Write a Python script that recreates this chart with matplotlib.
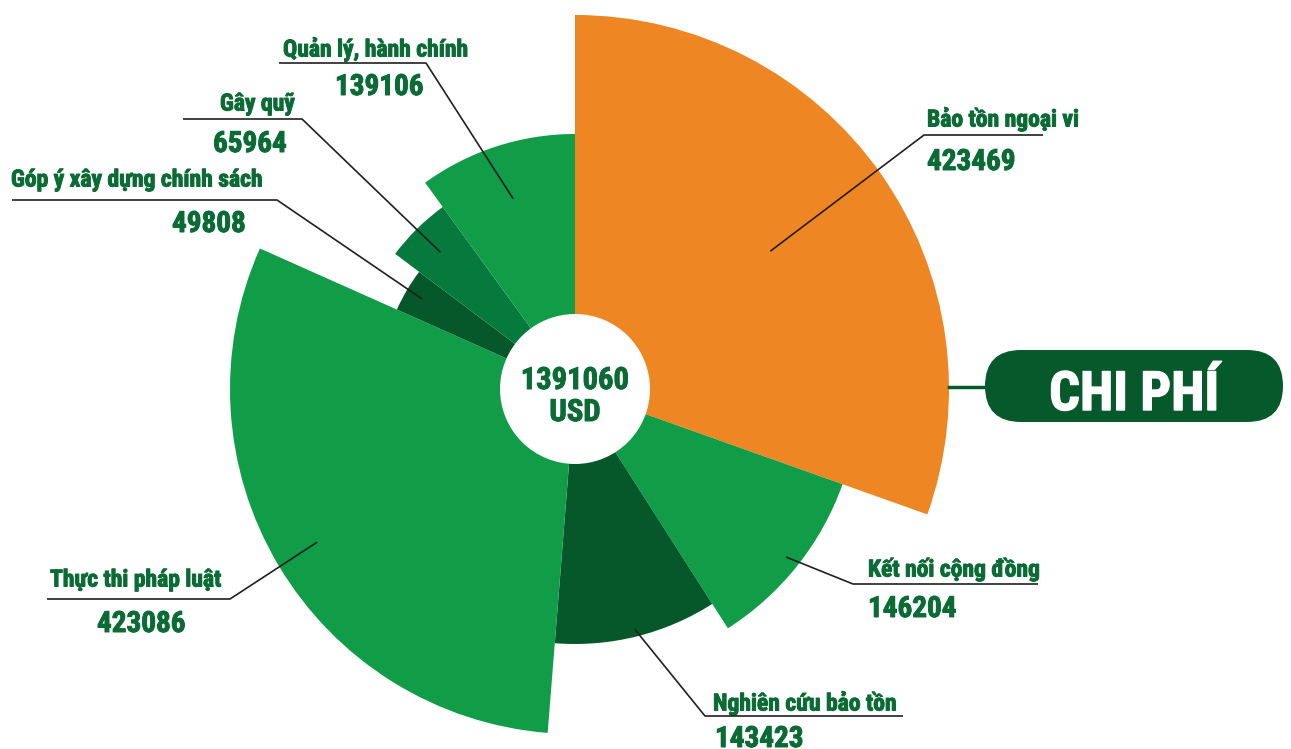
import numpy as np
import matplotlib
matplotlib.use('Agg')
import matplotlib.pyplot as plt
import matplotlib.patheffects as pe
from matplotlib.patches import Wedge, Circle, FancyBboxPatch

# data, clockwise from 12 o'clock
labels = ["Bảo tồn ngoại vi", "Kết nối cộng đồng", "Nghiên cứu bảo tồn",
          "Thực thi pháp luật", "Góp ý xây dựng chính sách", "Gây quỹ",
          "Quản lý, hành chính"]
values = [423469, 146204, 143423, 423086, 49808, 65964, 139106]
total_value = "1391060"
total_unit = "USD"
title = "CHI PHÍ"

# style
radii = [374, 284, 255, 345, 195, 225, 255]
colors = ["#ee8623", "#119c48", "#06582a", "#119c48", "#06582a", "#067a3d", "#119c48"]
hole = 75
lead_r = [239, 270, 248, 300, 177, 192, 200]
# title left x, title y, number left x, number y, knee x, knee y, end x (image px)
lab_pos = [
    (927, 118, 927, 160, 924, 135, 1043),
    (868, 568, 868, 607, 853, 584, 1038),
    (713, 702, 715, 737, 705, 716, 903),
    (50, 578, 97, 622, 230, 599, 47),
    (11, 178, 172, 222, 277, 200, 12),
    (220, 102, 213, 142, 302, 119, 183),
    (283, 48, 335, 85, 426, 63, 279),
]

W, H = 1291, 749
cx, cy = 575, H - 389
txt_col = "#0a6b35"
fam = ['Roboto Condensed', 'DejaVu Sans']


def iy(y):
    return H - y


def heavy(col, w=0.7):
    return [pe.withStroke(linewidth=w, foreground=col)]


fig = plt.figure(figsize=(W / 100, H / 100), dpi=100)
ax = fig.add_axes([0, 0, 1, 1])
ax.set_xlim(0, W)
ax.set_ylim(0, H)
ax.axis('off')

tot = float(sum(values))
start = 90.0
mids = []
for v, r, c in zip(values, radii, colors):
    span = v / tot * 360.0
    ax.add_patch(Wedge((cx, cy), r, start - span, start, facecolor=c, edgecolor='none'))
    mids.append(np.radians(start - span / 2))
    start -= span

ax.add_patch(Circle((cx, cy), hole, facecolor='white', edgecolor='none', zorder=3))
ax.text(cx, iy(389), total_value, ha='center', va='baseline', fontsize=22, fontweight='bold',
        family=fam, color=txt_col, zorder=4, path_effects=heavy(txt_col))
ax.text(cx, iy(421), total_unit, ha='center', va='baseline', fontsize=22, fontweight='bold',
        family=fam, color=txt_col, zorder=4, path_effects=heavy(txt_col))

for i in range(len(values)):
    tx, ty, nx, ny, kx, ky, ex = lab_pos[i]
    x0 = cx + lead_r[i] * np.cos(mids[i])
    y0 = cy + lead_r[i] * np.sin(mids[i])
    ax.plot([x0, kx, ex], [y0, iy(ky), iy(ky)], color='#231f20', lw=1.2,
            solid_capstyle='butt', zorder=5)
    ax.text(tx, iy(ty + 8.5), labels[i], ha='left', va='baseline', fontsize=17,
            fontweight='bold', family=fam, color=txt_col, path_effects=heavy(txt_col))
    ax.text(nx, iy(ny + 10), str(values[i]), ha='left', va='baseline', fontsize=21,
            fontweight='bold', family=fam, color=txt_col, path_effects=heavy(txt_col))

# CHI PHÍ badge
ax.plot([cx + radii[0], 990], [iy(387), iy(387)], color="#06592b", lw=2.5, zorder=1)
ax.add_patch(FancyBboxPatch((985, iy(422)), 298, 72,
                            boxstyle="round,pad=0,rounding_size=36",
                            facecolor="#06592b", edgecolor='none'))
ax.text(1134, iy(410), title, ha='center', va='baseline', fontsize=39, fontweight='bold',
        family=fam, color='white', path_effects=heavy('white', 1.0))

fig.savefig("out.png", dpi=100)
